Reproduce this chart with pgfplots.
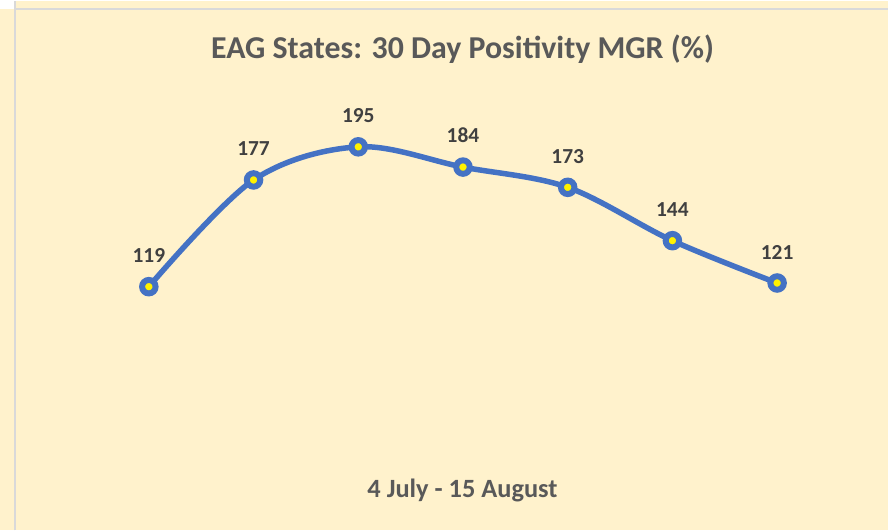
\documentclass[border=0pt]{standalone}
\usepackage{pgfplots}
\pgfplotsset{compat=1.18}
\usepackage{fontspec}
\setmainfont{Carlito}
\definecolor{bgcream}{HTML}{FFF2CC}
\definecolor{gridgray}{HTML}{D9D9D9}
\definecolor{lineblue}{HTML}{4472C4}
\definecolor{titlegray}{HTML}{595959}
\definecolor{labelgray}{HTML}{404040}

\begin{document}
\begin{tikzpicture}
% sheet background and cell borders
\fill[bgcream] (0,0) rectangle (889bp,530bp);
\fill[white] (0,522bp) rectangle (14bp,530bp);
\draw[gridgray, line width=2bp] (15bp,0) -- (15bp,530bp);
\draw[gridgray, line width=2bp] (14bp,522bp) -- (889bp,522bp);

\node[font=\bfseries\fontsize{32}{38}\selectfont, text=titlegray] at (463bp,482bp) {EAG States: 30 Day Positivity MGR (\%)};
\node[font=\bfseries\fontsize{26.5}{30}\selectfont, text=titlegray] at (463bp,40bp) {4 July - 15 August};

\begin{axis}[
    at={(149bp,244bp)}, anchor=south west,
    scale only axis, width=629bp, height=140bp,
    xmin=0, xmax=6, ymin=119, ymax=195,
    hide axis, clip=false,
    nodes near coords, point meta=explicit symbolic,
    every node near coord/.append style={
        font=\bfseries\fontsize{21.5}{24}\selectfont, text=labelgray,
        anchor=south, inner sep=0pt, yshift=21bp},
]
\addplot[lineblue, line width=5.5bp, smooth, tension=0.55,
    mark=*, mark size=6.75bp,
    mark options={fill=yellow, draw=lineblue, line width=6bp}]
    coordinates {
    (0,119) [119]
    (1,177) [177]
    (2,195) [195]
    (3,184) [184]
    (4,173) [173]
    (5,144) [144]
    (6,121) [121]
};
\end{axis}
\end{tikzpicture}
\end{document}
